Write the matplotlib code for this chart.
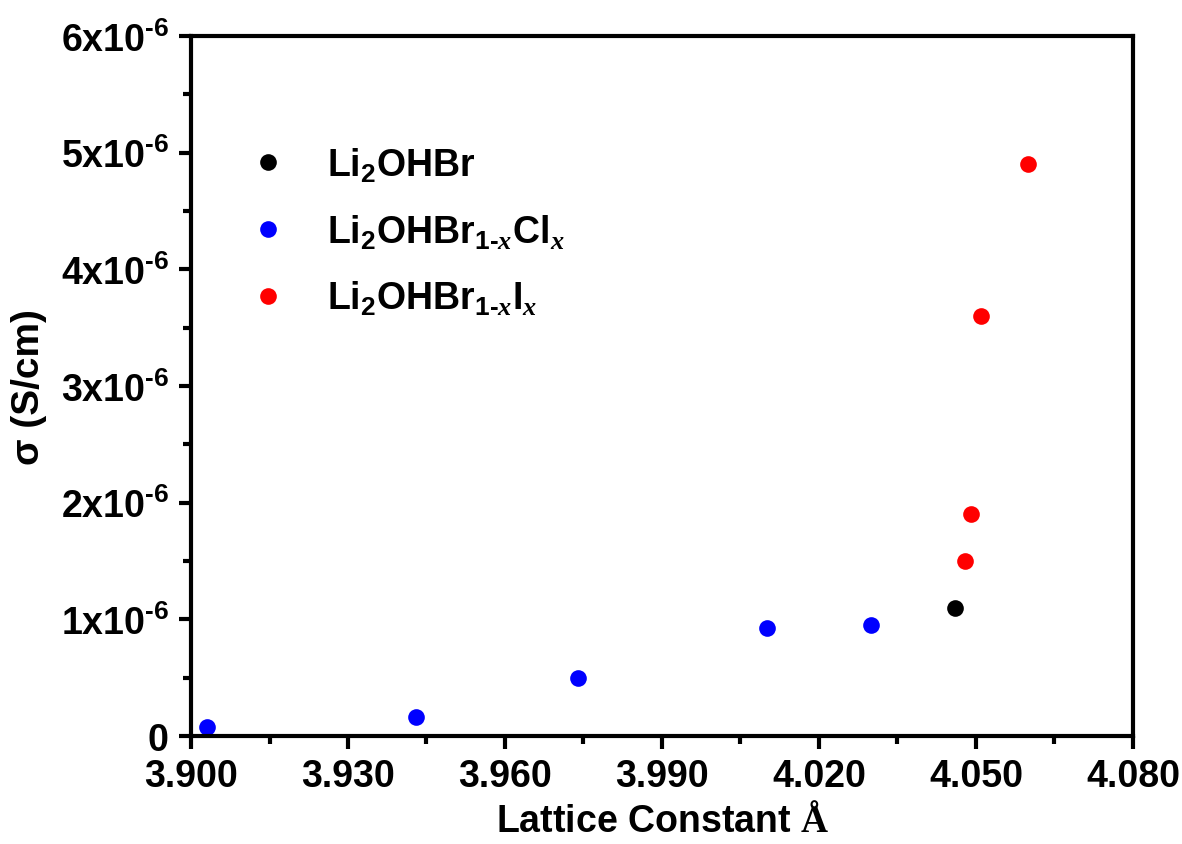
import matplotlib
matplotlib.use("Agg")
import matplotlib.pyplot as plt
from matplotlib.ticker import MultipleLocator, FixedLocator

plt.rcParams['font.family'] = ['Liberation Sans', 'DejaVu Sans']
plt.rcParams['font.weight'] = 'bold'
plt.rcParams['mathtext.fontset'] = 'custom'
plt.rcParams['mathtext.rm'] = 'Liberation Sans:bold'
plt.rcParams['mathtext.bf'] = 'Liberation Sans:bold'
plt.rcParams['mathtext.it'] = 'Liberation Serif:italic'
plt.rcParams['mathtext.sf'] = 'Liberation Serif:bold'
plt.rcParams['mathtext.default'] = 'rm'

# Data
br_x = [4.046]
br_y = [1.10e-6]
cl_x = [3.903, 3.943, 3.974, 4.010, 4.030]
cl_y = [0.08e-6, 0.16e-6, 0.50e-6, 0.93e-6, 0.95e-6]
i_x = [4.048, 4.049, 4.051, 4.060]
i_y = [1.50e-6, 1.90e-6, 3.60e-6, 4.90e-6]

labels = [r'Li$_2$OHBr',
          r'Li$_2$OHBr$_{\text{1-}\mathit{x}}$Cl$_{\mathit{x}}$',
          r'Li$_2$OHBr$_{\text{1-}\mathit{x}}$I$_{\mathit{x}}$']

y_ticks = [0, 1e-6, 2e-6, 3e-6, 4e-6, 5e-6, 6e-6]
y_ticklabels = ['0', r'1x10$^{\text{-6}}$', r'2x10$^{\text{-6}}$', r'3x10$^{\text{-6}}$',
                r'4x10$^{\text{-6}}$', r'5x10$^{\text{-6}}$', r'6x10$^{\text{-6}}$']
x_ticks = [3.900, 3.930, 3.960, 3.990, 4.020, 4.050, 4.080]
x_ticklabels = ['3.900', '3.930', '3.960', '3.990', '4.020', '4.050', '4.080']

fig = plt.figure(figsize=(11.82, 8.45), dpi=100)
ax = fig.add_axes([0.1616, 0.1278, 0.9585 - 0.1616, 0.9562 - 0.1278])

ms = 12
ax.plot(br_x, br_y, 'o', color='black', ms=ms, mec='none', label=labels[0], clip_on=False)
ax.plot(cl_x, cl_y, 'o', color='#0000ff', ms=ms, mec='none', label=labels[1], clip_on=False)
ax.plot(i_x, i_y, 'o', color='#ff0000', ms=ms, mec='none', label=labels[2], clip_on=False)

ax.set_xlim(3.900, 4.080)
ax.set_ylim(0, 6e-6)
ax.xaxis.set_major_locator(FixedLocator(x_ticks))
ax.set_xticklabels(x_ticklabels)
ax.xaxis.set_minor_locator(MultipleLocator(0.015))
ax.yaxis.set_major_locator(FixedLocator(y_ticks))
ax.set_yticklabels(y_ticklabels)
ax.yaxis.set_minor_locator(MultipleLocator(0.5e-6))

for s in ax.spines.values():
    s.set_linewidth(3)
ax.tick_params(which='major', direction='out', length=9, width=3, labelsize=27, pad=7)
ax.tick_params(which='minor', direction='out', length=6, width=3)
ax.tick_params(top=False, right=False, which='both')

ax.set_xlabel(r'Lattice Constant $\mathsf{Å}$', fontsize=27, fontweight='bold', labelpad=6)
ax.set_ylabel('σ (S/cm)', fontsize=28, fontweight='bold', labelpad=10)

leg = ax.legend(loc='upper left', bbox_to_anchor=(0.046, 0.865), frameon=False,
                fontsize=27, handletextpad=1.08, labelspacing=0.76, borderaxespad=0,
                handlelength=1.0, numpoints=1)
for h in leg.legend_handles:
    h.set_markersize(12)

fig.savefig('out.png', dpi=100)
